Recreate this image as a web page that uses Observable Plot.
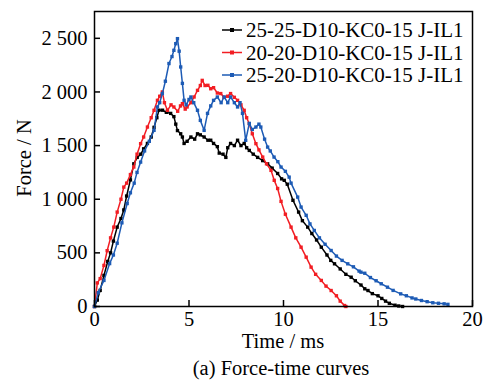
<!DOCTYPE html>
<html><head><meta charset="utf-8">
<script src="https://cdn.jsdelivr.net/npm/d3@7"></script>
<script src="https://cdn.jsdelivr.net/npm/@observablehq/plot@0.6"></script>
<style>body{margin:0;background:#fff} svg{font-family:"Liberation Serif","Times New Roman",serif}</style>
</head><body><div id="chart"></div>
<script>
const seriesNames = ["25-25-D10-KC0-15 J-IL1", "20-20-D10-KC0-15 J-IL1", "25-20-D10-KC0-15 J-IL1"];
const seriesColors = ["#000000", "#f21d23", "#1d5bb5"];
const xTicks = [0, 5, 10, 15, 20];
const yTicks = [0, 500, 1000, 1500, 2000, 2500];

const timeBlack = [0,0.15,0.3,0.5,0.7,0.85,1.0,1.2,1.4,1.55,1.7,1.9,2.08,2.26,2.45,2.6,2.8,3.0,3.15,3.3,3.41,3.6,3.8,4.03,4.2,4.3,4.39,4.56,4.65,4.74,4.9,5.1,5.3,5.45,5.6,5.8,6.0,6.15,6.3,6.5,6.6,6.8,6.95,7.05,7.2,7.4,7.57,7.75,7.92,8.05,8.19,8.4,8.63,8.9,9.16,9.4,9.69,9.9,10.04,10.2,10.5,10.8,11.0,11.28,11.5,11.75,12.0,12.3,12.5,12.7,13.0,13.3,13.58,13.8,14.1,14.3,14.47,14.7,15.0,15.2,15.4,15.6,15.9,16.1,16.3];
const forceBlack = [0,60,150,290,420,500,610,740,820,900,1030,1180,1330,1390,1420,1470,1520,1580,1670,1760,1830,1830,1810,1800,1770,1700,1640,1610,1580,1520,1540,1580,1560,1610,1600,1580,1550,1550,1520,1490,1430,1420,1390,1480,1520,1500,1550,1500,1520,1480,1455,1420,1390,1360,1330,1290,1240,1190,1176,1140,990,880,800,740,680,620,553,480,430,398,350,300,273,240,200,165,149,120,100,75,50,30,12,5,0];

const timeRed = [0,0.15,0.3,0.5,0.67,0.85,1.02,1.2,1.4,1.55,1.7,1.9,2.08,2.25,2.44,2.6,2.8,3.0,3.15,3.33,3.45,3.59,3.7,3.86,4.05,4.2,4.4,4.55,4.65,4.8,4.9,5.1,5.27,5.45,5.6,5.7,5.85,6.0,6.15,6.3,6.5,6.68,6.85,7.04,7.2,7.4,7.57,7.75,7.92,8.05,8.19,8.35,8.54,8.7,8.9,9.1,9.34,9.51,9.69,9.87,10.1,10.4,10.65,10.93,11.2,11.46,11.7,12.0,12.25,12.52,12.8,13.0,13.23,13.3];
const forceRed = [0,220,260,383,520,640,740,880,1000,1113,1150,1230,1300,1420,1518,1580,1673,1760,1829,1922,1960,2000,1900,1829,1880,1860,1820,1870,1891,1840,1860,1900,1953,2015,2060,2108,2060,2062,2030,2040,1990,1985,1950,1960,1985,1950,1922,1880,1829,1760,1704,1610,1518,1460,1393,1330,1269,1176,1100,980,860,740,640,553,460,367,300,243,190,149,100,50,9,0];

const timeBlue = [0,0.2,0.5,0.8,1.0,1.2,1.45,1.73,1.9,2.1,2.25,2.44,2.65,2.9,3.15,3.33,3.45,3.59,3.75,3.94,4.1,4.2,4.3,4.39,4.48,4.56,4.65,4.74,4.85,5.0,5.1,5.25,5.45,5.6,5.8,5.98,6.15,6.3,6.5,6.7,6.86,7.05,7.2,7.4,7.57,7.7,7.83,8.0,8.19,8.35,8.54,8.7,8.8,9.0,9.16,9.3,9.5,9.7,9.87,10.1,10.3,10.4,10.75,10.93,11.2,11.4,11.63,11.9,12.2,12.52,12.8,13.1,13.4,13.7,14.0,14.1,14.3,14.6,14.9,15.17,15.5,15.8,16.2,16.5,16.8,17.0,17.3,17.6,17.9,18.2,18.5,18.7];
const forceBlue = [0,130,243,400,480,590,780,960,1060,1150,1250,1346,1450,1540,1642,1860,1900,1985,2100,2265,2330,2388,2450,2497,2380,2233,2080,1922,1880,1930,1953,1900,1829,1735,1642,1800,1870,1922,1953,1900,1953,1900,1953,1900,1860,1900,1800,1549,1707,1650,1673,1700,1673,1560,1486,1450,1393,1350,1300,1260,1206,1150,1020,927,850,770,709,640,580,522,470,430,398,370,330,320,310,270,240,212,180,150,118,100,80,70,56,45,35,30,25,20];

const seriesTimes = [timeBlack, timeRed, timeBlue];
const seriesForces = [forceBlack, forceRed, forceBlue];

const rows = [];
seriesNames.forEach((s, i) => seriesTimes[i].forEach((t, j) => rows.push({s, t, f: seriesForces[i][j]})));

const fmt = d3.formatLocale({decimal: ".", thousands: " ", grouping: [3], currency: ["", ""]}).format(",");

const marks = [];
seriesNames.forEach((s) => {
  const d = rows.filter(r => r.s === s);
  marks.push(Plot.line(d, {x: "t", y: "f", stroke: "s", strokeWidth: 1.5}));
  marks.push(Plot.dot(d, {x: "t", y: "f", fill: "s", symbol: "square", r: 1.9}));
});
marks.push(Plot.frame({stroke: "#000", strokeWidth: 1.5}));
marks.push(Plot.axisX(xTicks, {tickSize: -6, tickPadding: 11, label: null, strokeWidth: 1.5}));
marks.push(Plot.axisY(yTicks, {tickSize: -6, tickPadding: 13, label: null, tickFormat: fmt, strokeWidth: 1.5}));

const plot = Plot.plot({
  width: 485, height: 382,
  marginLeft: 94, marginRight: 13, marginTop: 11, marginBottom: 76,
  style: {fontFamily: "Liberation Serif", fontSize: "20.5px", background: "#fff", color: "#000", overflow: "visible"},
  x: {domain: [0, 20]},
  y: {domain: [0, 2750]},
  color: {domain: seriesNames, range: seriesColors},
  marks
});
document.getElementById("chart").appendChild(plot);

const svg = d3.select(plot);
const ff = "Liberation Serif";
svg.append("text").attr("x", 283).attr("y", 348).attr("text-anchor", "middle")
  .attr("font-family", ff).attr("font-size", 20.5).attr("fill", "#000").text("Time / ms");
svg.append("text").attr("x", 281).attr("y", 375).attr("text-anchor", "middle")
  .attr("font-family", ff).attr("font-size", 20.5).attr("fill", "#000").text("(a) Force-time curves");
svg.append("text").attr("transform", "translate(31,158) rotate(-90)").attr("text-anchor", "middle")
  .attr("font-family", ff).attr("font-size", 20.5).attr("fill", "#000").text("Force / N");

const lg = svg.append("g");
seriesNames.forEach((s, i) => {
  const yc = 30 + i * 22.5;
  lg.append("line").attr("x1", 222).attr("x2", 242).attr("y1", yc).attr("y2", yc)
    .attr("stroke", seriesColors[i]).attr("stroke-width", 1.5);
  lg.append("rect").attr("x", 230).attr("y", yc - 2).attr("width", 4).attr("height", 4).attr("fill", seriesColors[i]);
  lg.append("text").attr("x", 246).attr("y", yc + 7).attr("text-anchor", "start").attr("font-family", ff).attr("font-size", 21)
    .attr("fill", "#000").text(s);
});
</script>
</body></html>
